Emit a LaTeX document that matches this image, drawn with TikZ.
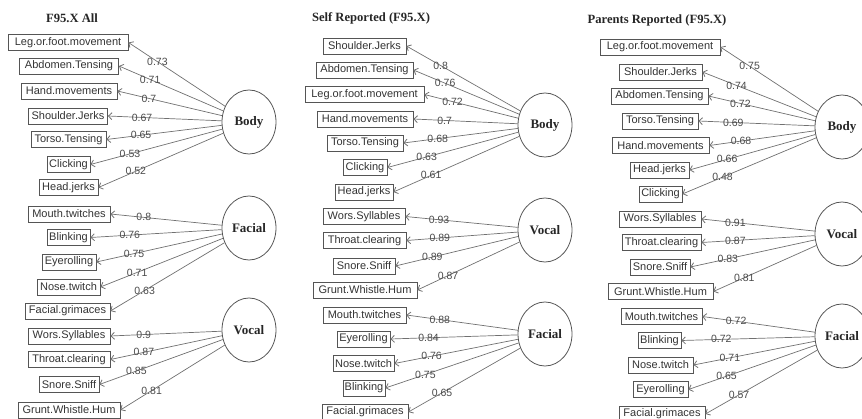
\documentclass[tikz,border=0pt]{standalone}
\usepackage{fontspec}
\setmainfont{Liberation Serif}
\newfontfamily\sansf{Liberation Sans}
\usetikzlibrary{arrows.meta,shapes.geometric}
\definecolor{edgecol}{HTML}{707070}
\definecolor{boxcol}{HTML}{555555}
\definecolor{txtcol}{HTML}{333333}
\definecolor{labcol}{HTML}{4A4A4A}
\tikzset{
  item/.style={draw=boxcol, line width=0.8pt, inner sep=0pt, minimum height=16pt,
    text=txtcol, font=\sansf\fontsize{11}{13}\selectfont},
  latent/.style={draw=boxcol, line width=0.8pt, ellipse, minimum width=54pt, minimum height=64pt,
    inner sep=0pt, font=\bfseries\fontsize{13}{15}\selectfont, text=black!85},
  ptitle/.style={font=\bfseries\fontsize{12.6}{14}\selectfont, text=black!85},
  edge/.style={draw=edgecol, line width=0.7pt, -{Straight Barb[length=3.5pt,width=7pt,line width=0.8pt]}},
  lab/.style={pos=0.7, inner sep=0pt, text=labcol, font=\sansf\fontsize{10.5}{12}\selectfont}
}
\begin{document}
\begin{tikzpicture}[x=1pt,y=-1pt]
\useasboundingbox (0,0) rectangle (862,419);
\clip (0,0) rectangle (862,419);
% ---------- Panel 1 ----------
\node[ptitle] (t1) at (72,18) {F95.X All};
\node[item, minimum width=120pt] (a1) at (68,42.5) {Leg.or.foot.movement};
\node[item, minimum width=99pt] (a2) at (69,66) {Abdomen.Tensing};
\node[item, minimum width=96pt] (a3) at (69,91) {Hand.movements};
\node[item, minimum width=79pt] (a4) at (68,116) {Shoulder.Jerks};
\node[item, minimum width=75pt] (a5) at (68.5,139.5) {Torso.Tensing};
\node[item, minimum width=43pt] (a6) at (68.5,164.5) {Clicking};
\node[item, minimum width=59pt] (a7) at (68.5,187.5) {Head.jerks};
\node[latent] (Body1) at (249,122) {Body};
\node[item, minimum width=82pt] (a8) at (69,214) {Mouth.twitches};
\node[item, minimum width=43pt] (a9) at (68.5,237.5) {Blinking};
\node[item, minimum width=54pt] (a10) at (69,262) {Eyerolling};
\node[item, minimum width=63pt] (a11) at (68.5,287) {Nose.twitch};
\node[item, minimum width=85pt] (a12) at (67.5,311) {Facial.grimaces};
\node[latent] (Facial1) at (249,228) {Facial};
\node[item, minimum width=82pt] (a13) at (69,336) {Wors.Syllables};
\node[item, minimum width=82pt] (a14) at (69,359.5) {Throat.clearing};
\node[item, minimum width=60pt] (a15) at (69,384.5) {Snore.Sniff};
\node[item, minimum width=102pt] (a16) at (69,410) {Grunt.Whistle.Hum};
\node[latent] (Vocal1) at (249,330) {Vocal};
\foreach \n/\v in {a1/0.73,a2/0.71,a3/0.7,a4/0.67,a5/0.65,a6/0.53,a7/0.52}
  \draw[edge] (Body1) -- node[lab]{\v} (\n.east);
\foreach \n/\v in {a8/0.8,a9/0.76,a10/0.75,a11/0.71,a12/0.63}
  \draw[edge] (Facial1) -- node[lab]{\v} (\n.east);
\foreach \n/\v in {a13/0.9,a14/0.87,a15/0.85,a16/0.81}
  \draw[edge] (Vocal1) -- node[lab]{\v} (\n.east);
% ---------- Panel 2 ----------
\node[ptitle] (t2) at (371,18) {Self Reported (F95.X)};
\node[item, minimum width=83pt] (b1) at (364.5,46) {Shoulder.Jerks};
\node[item, minimum width=97pt] (b2) at (364.5,70) {Abdomen.Tensing};
\node[item, minimum width=119pt] (b3) at (364.5,94.5) {Leg.or.foot.movement};
\node[item, minimum width=96pt] (b4) at (365,119) {Hand.movements};
\node[item, minimum width=76pt] (b5) at (365,143) {Torso.Tensing};
\node[item, minimum width=44pt] (b6) at (365,167.5) {Clicking};
\node[item, minimum width=58pt] (b7) at (364,192) {Head.jerks};
\node[latent] (Body2) at (545,125) {Body};
\node[item, minimum width=82pt] (b8) at (364,216.5) {Wors.Syllables};
\node[item, minimum width=83pt] (b9) at (364.5,240.5) {Throat.clearing};
\node[item, minimum width=62pt] (b10) at (364,266) {Snore.Sniff};
\node[item, minimum width=104pt] (b11) at (365,290) {Grunt.Whistle.Hum};
\node[latent] (Vocal2) at (545,230) {Vocal};
\node[item, minimum width=83pt] (b12) at (364.5,315) {Mouth.twitches};
\node[item, minimum width=53pt] (b13) at (363.5,339) {Eyerolling};
\node[item, minimum width=61pt] (b14) at (363.5,363.5) {Nose.twitch};
\node[item, minimum width=42pt] (b15) at (364,388) {Blinking};
\node[item, minimum width=86pt] (b16) at (365,412) {Facial.grimaces};
\node[latent] (Facial2) at (545,334) {Facial};
\foreach \n/\v in {b1/0.8,b2/0.76,b3/0.72,b4/0.7,b5/0.68,b6/0.63,b7/0.61}
  \draw[edge] (Body2) -- node[lab]{\v} (\n.east);
\foreach \n/\v in {b8/0.93,b9/0.89,b10/0.89,b11/0.87}
  \draw[edge] (Vocal2) -- node[lab]{\v} (\n.east);
\foreach \n/\v in {b12/0.88,b13/0.84,b14/0.76,b15/0.75,b16/0.65}
  \draw[edge] (Facial2) -- node[lab]{\v} (\n.east);
% ---------- Panel 3 ----------
\node[ptitle] (t3) at (657,20) {Parents Reported (F95.X)};
\node[item, minimum width=120pt] (c1) at (660,47) {Leg.or.foot.movement};
\node[item, minimum width=83pt] (c2) at (660.5,72) {Shoulder.Jerks};
\node[item, minimum width=97pt] (c3) at (659.5,96) {Abdomen.Tensing};
\node[item, minimum width=76pt] (c4) at (660,121) {Torso.Tensing};
\node[item, minimum width=97pt] (c5) at (660.5,145.5) {Hand.movements};
\node[item, minimum width=59pt] (c6) at (659.5,170) {Head.jerks};
\node[item, minimum width=43pt] (c7) at (660.5,194) {Clicking};
\node[latent] (Body3) at (842,127) {Body};
\node[item, minimum width=82pt] (c8) at (660,219) {Wors.Syllables};
\node[item, minimum width=79pt] (c9) at (661.5,242.5) {Throat.clearing};
\node[item, minimum width=60pt] (c10) at (660,267) {Snore.Sniff};
\node[item, minimum width=105pt] (c11) at (660.5,291.5) {Grunt.Whistle.Hum};
\node[latent] (Vocal3) at (842,234) {Vocal};
\node[item, minimum width=81pt] (c12) at (661.5,316.5) {Mouth.twitches};
\node[item, minimum width=43pt] (c13) at (659.5,340.5) {Blinking};
\node[item, minimum width=65pt] (c14) at (660.5,365) {Nose.twitch};
\node[item, minimum width=55pt] (c15) at (660.5,389.5) {Eyerolling};
\node[item, minimum width=86pt] (c16) at (662,414) {Facial.grimaces};
\node[latent] (Facial3) at (842,336) {Facial};
\foreach \n/\v in {c1/0.75,c2/0.74,c3/0.72,c4/0.69,c5/0.68,c6/0.66,c7/0.48}
  \draw[edge] (Body3) -- node[lab]{\v} (\n.east);
\foreach \n/\v in {c8/0.91,c9/0.87,c10/0.83,c11/0.81}
  \draw[edge] (Vocal3) -- node[lab]{\v} (\n.east);
\foreach \n/\v in {c12/0.72,c13/0.72,c14/0.71,c15/0.65,c16/0.57}
  \draw[edge] (Facial3) -- node[lab]{\v} (\n.east);
\end{tikzpicture}
\end{document}
